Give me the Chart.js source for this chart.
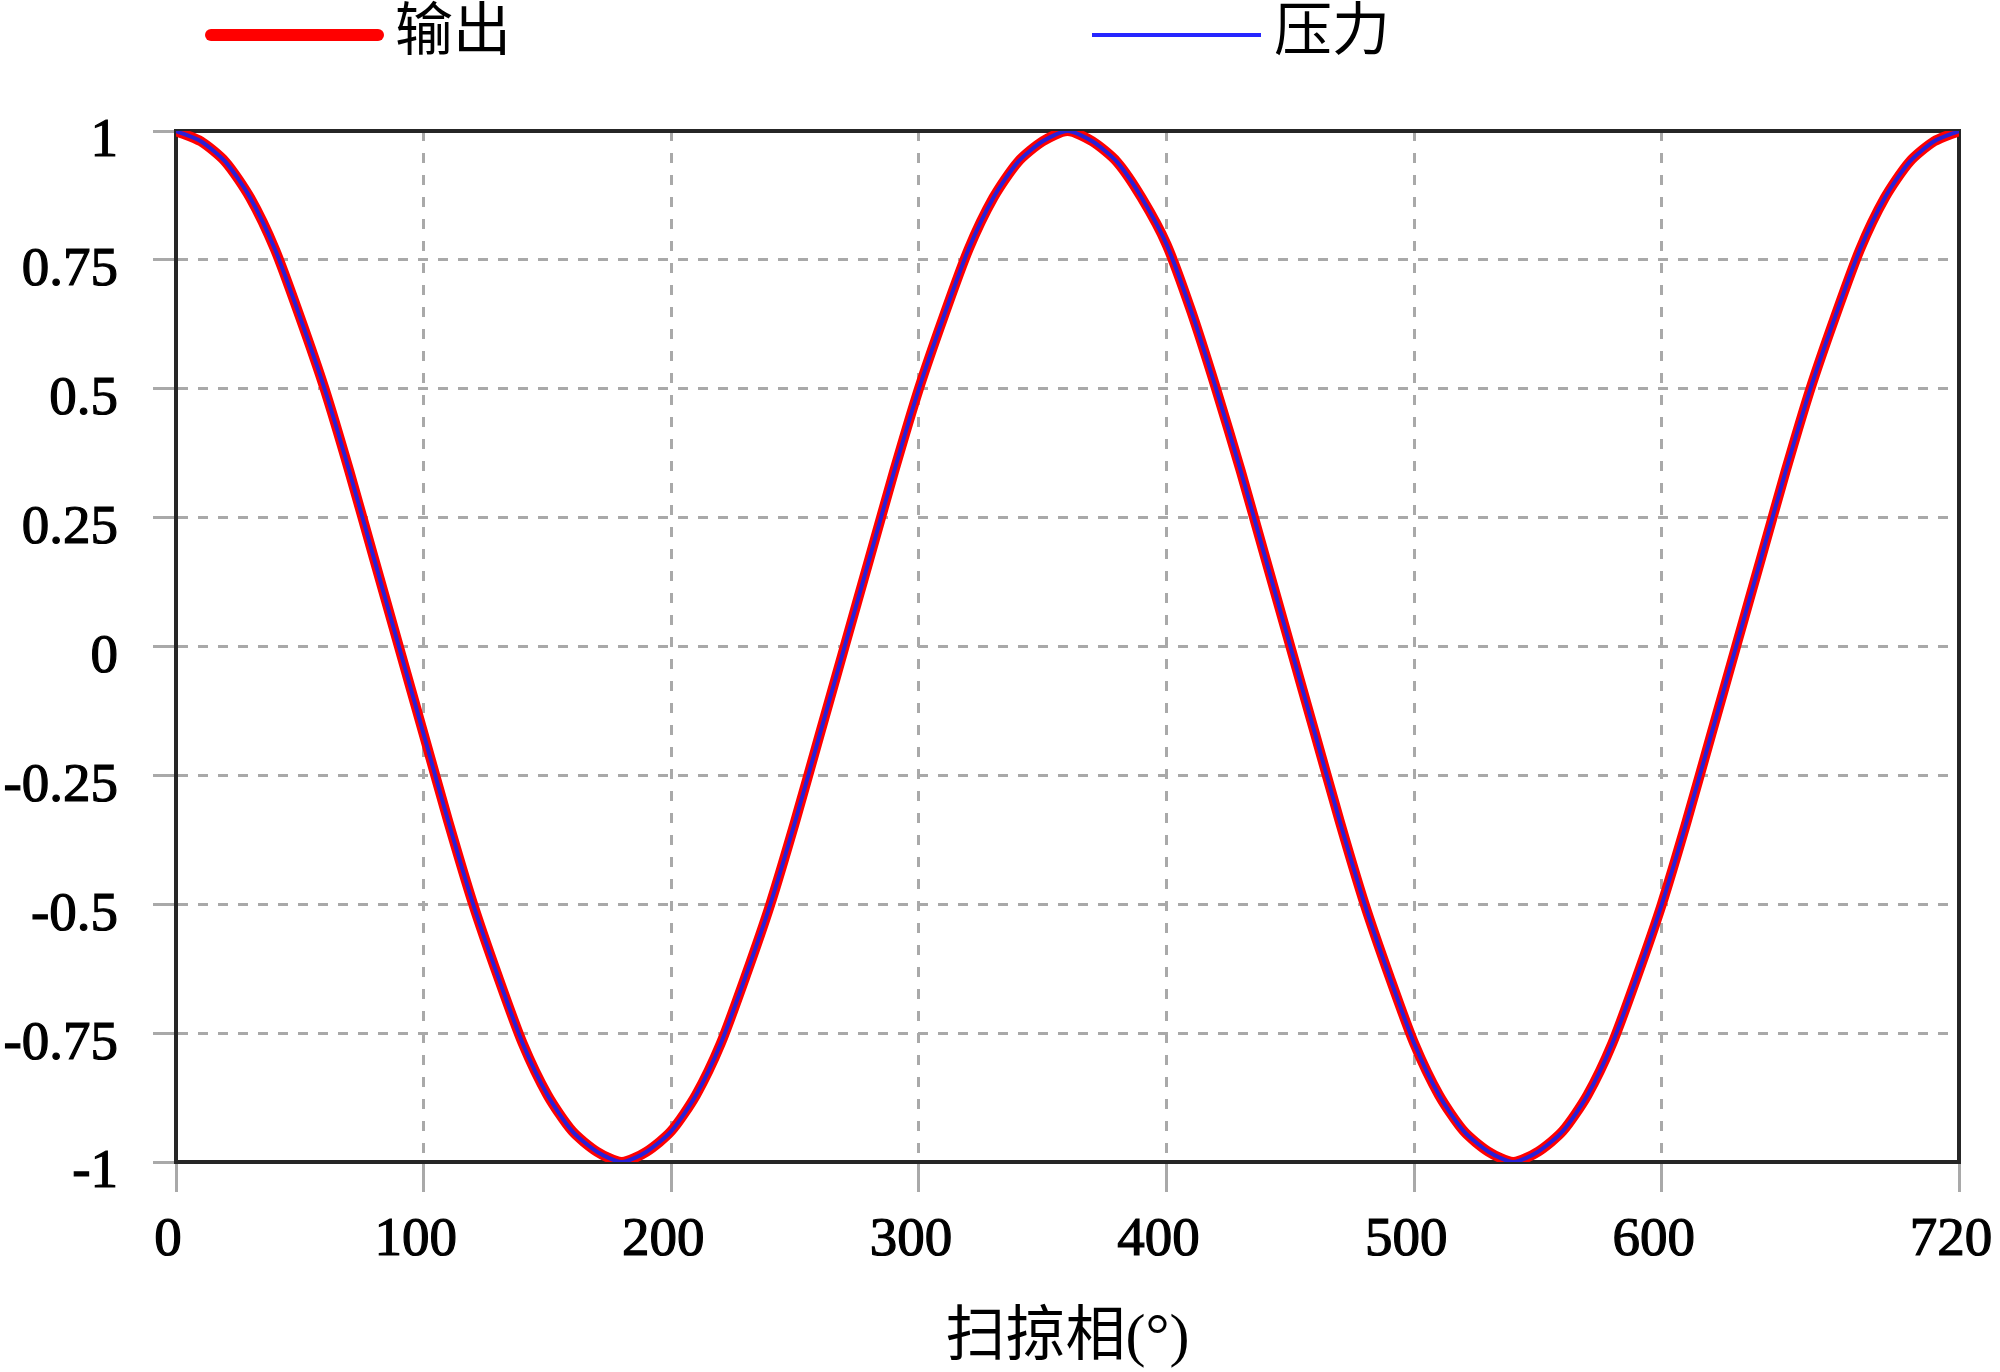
<!DOCTYPE html>
<html>
<head>
<meta charset="utf-8">
<script src="https://cdn.jsdelivr.net/npm/chart.js@4.4.1/dist/chart.umd.min.js"></script>
<style>
html,body{margin:0;padding:0;background:#ffffff;}
#wrap{width:2000px;height:1372px;position:relative;}
canvas{display:block;}
</style>
</head>
<body>
<div id="wrap"><canvas id="c" width="2000" height="1372"></canvas></div>
<script>
// ---- data ----
const angles = [0,10,20,30,40,50,60,70,80,90,100,110,120,130,140,150,160,170,180,
  190,200,210,220,230,240,250,260,270,280,290,300,310,320,330,340,350,360,
  370,380,390,400,410,420,430,440,450,460,470,480,490,500,510,520,530,540,
  550,560,570,580,590,600,610,620,630,640,650,660,670,680,690,700,710,720];

const outputVals = [1.00,0.98,0.94,0.87,0.77,0.64,0.50,0.34,0.17,0.00,-0.17,-0.34,-0.50,-0.64,-0.77,-0.87,-0.94,-0.98,-1.00,
  -0.98,-0.94,-0.87,-0.77,-0.64,-0.50,-0.34,-0.17,0.00,0.17,0.34,0.50,0.64,0.77,0.87,0.94,0.98,1.00,
  0.98,0.94,0.87,0.78,0.65,0.50,0.34,0.17,0.00,-0.17,-0.34,-0.50,-0.64,-0.77,-0.87,-0.94,-0.98,-1.00,
  -0.98,-0.94,-0.87,-0.77,-0.64,-0.50,-0.34,-0.17,0.00,0.17,0.34,0.50,0.64,0.77,0.87,0.94,0.98,1.00];

const pressureVals = [1.00,0.98,0.94,0.87,0.77,0.64,0.50,0.34,0.17,0.00,-0.17,-0.34,-0.50,-0.64,-0.77,-0.87,-0.94,-0.98,-1.00,
  -0.98,-0.94,-0.87,-0.77,-0.64,-0.50,-0.34,-0.17,0.00,0.17,0.34,0.50,0.64,0.77,0.87,0.94,0.98,1.00,
  0.98,0.94,0.87,0.78,0.65,0.50,0.34,0.17,0.00,-0.17,-0.34,-0.50,-0.64,-0.77,-0.87,-0.94,-0.98,-1.00,
  -0.98,-0.94,-0.87,-0.77,-0.64,-0.50,-0.34,-0.17,0.00,0.17,0.34,0.50,0.64,0.77,0.87,0.94,0.98,1.00];

const seriesNames = ['输出', '压力'];
const xTickValues = [0, 100, 200, 300, 400, 500, 600, 720];
const yTickValues = [-1, -0.75, -0.5, -0.25, 0, 0.25, 0.5, 0.75, 1];
const yTickLabels = ['-1', '-0.75', '-0.5', '-0.25', '0', '0.25', '0.5', '0.75', '1'];
const xAxisTitle = '扫掠相(°)';

// ---- styling ----
const SERIF = '"Liberation Serif", "Noto Sans CJK SC", serif';
const GRID = '#a9a9a9';
const FRAME = '#262626';

const toPoints = (xs, ys) => xs.map((x, i) => ({x: x, y: ys[i]}));

const framePlugin = {
  id: 'frame',
  beforeDatasetsDraw(chart) {
    const {ctx, chartArea: a} = chart;
    ctx.save();
    ctx.strokeStyle = FRAME;
    ctx.lineWidth = 4;
    ctx.strokeRect(a.left, a.top, a.right - a.left, a.bottom - a.top);
    ctx.restore();
  }
};

const legendPlugin = {
  id: 'topLegend',
  afterDraw(chart) {
    const ctx = chart.ctx;
    const items = [
      {x1: 211, x2: 378, tx: 395, w: 12, cap: 'round'},
      {x1: 1092, x2: 1261, tx: 1274, w: 4, cap: 'butt'}
    ];
    const y = 35;
    ctx.save();
    chart.data.datasets.forEach((ds, i) => {
      const it = items[i];
      ctx.beginPath();
      ctx.lineCap = it.cap;
      ctx.lineWidth = it.w;
      ctx.strokeStyle = ds.legendColor || ds.borderColor;
      ctx.moveTo(it.x1, y);
      ctx.lineTo(it.x2, y);
      ctx.stroke();
      ctx.fillStyle = '#000';
      ctx.font = '58px ' + SERIF;
      ctx.textBaseline = 'middle';
      ctx.textAlign = 'left';
      ctx.fillText(ds.label, it.tx, y);
    });
    ctx.restore();
  }
};

new Chart(document.getElementById('c'), {
  type: 'line',
  data: {
    datasets: [
      {
        label: seriesNames[0],
        data: toPoints(angles, outputVals),
        borderColor: '#ff0000',
        legendColor: '#ff0000',
        borderWidth: 10,
        pointRadius: 0,
        tension: 0.25,
        order: 2
      },
      {
        label: seriesNames[1],
        data: toPoints(angles, pressureVals),
        borderColor: '#2a1fd6',
        legendColor: '#2626ff',
        borderWidth: 4,
        pointRadius: 0,
        tension: 0.25,
        order: 1
      }
    ]
  },
  options: {
    responsive: false,
    animation: false,
    layout: {padding: {top: 131, left: 0, right: 41, bottom: 0}},
    plugins: {legend: {display: false}, tooltip: {enabled: false}, title: {display: false}},
    scales: {
      x: {
        type: 'linear',
        min: 0,
        max: 720,
        afterBuildTicks: (s) => { s.ticks = xTickValues.map(v => ({value: v})); },
        afterFit: (s) => { s.height = 210; s.paddingRight = 41; s.paddingLeft = 0; },
        ticks: {
          font: {family: SERIF, size: 55},
          color: '#000',
          textStrokeColor: '#000',
          textStrokeWidth: 1.2,
          padding: 16,
          labelOffset: -8,
          maxRotation: 0,
          autoSkip: false,
          callback: (v) => String(v)
        },
        grid: {color: GRID, lineWidth: 3, tickLength: 30, tickColor: GRID, tickWidth: 3},
        border: {display: true, color: FRAME, width: 4, dash: [10, 12]},
        title: {
          display: true,
          text: xAxisTitle,
          font: {family: SERIF, size: 60, lineHeight: 1},
          color: '#000',
          padding: {top: 0, bottom: 3}
        }
      },
      y: {
        type: 'linear',
        min: -1,
        max: 1,
        afterBuildTicks: (s) => { s.ticks = yTickValues.map(v => ({value: v})); },
        afterFit: (s) => { s.width = 176; },
        ticks: {
          font: {family: SERIF, size: 55},
          color: '#000',
          textStrokeColor: '#000',
          textStrokeWidth: 1.2,
          padding: 35,
          labelOffset: 11,
          callback: (v, i) => yTickLabels[i]
        },
        grid: {color: GRID, lineWidth: 3, tickLength: 23, tickColor: GRID, tickWidth: 3},
        border: {display: true, color: FRAME, width: 4, dash: [10, 10]}
      }
    }
  },
  plugins: [framePlugin, legendPlugin]
});
</script>
</body>
</html>
